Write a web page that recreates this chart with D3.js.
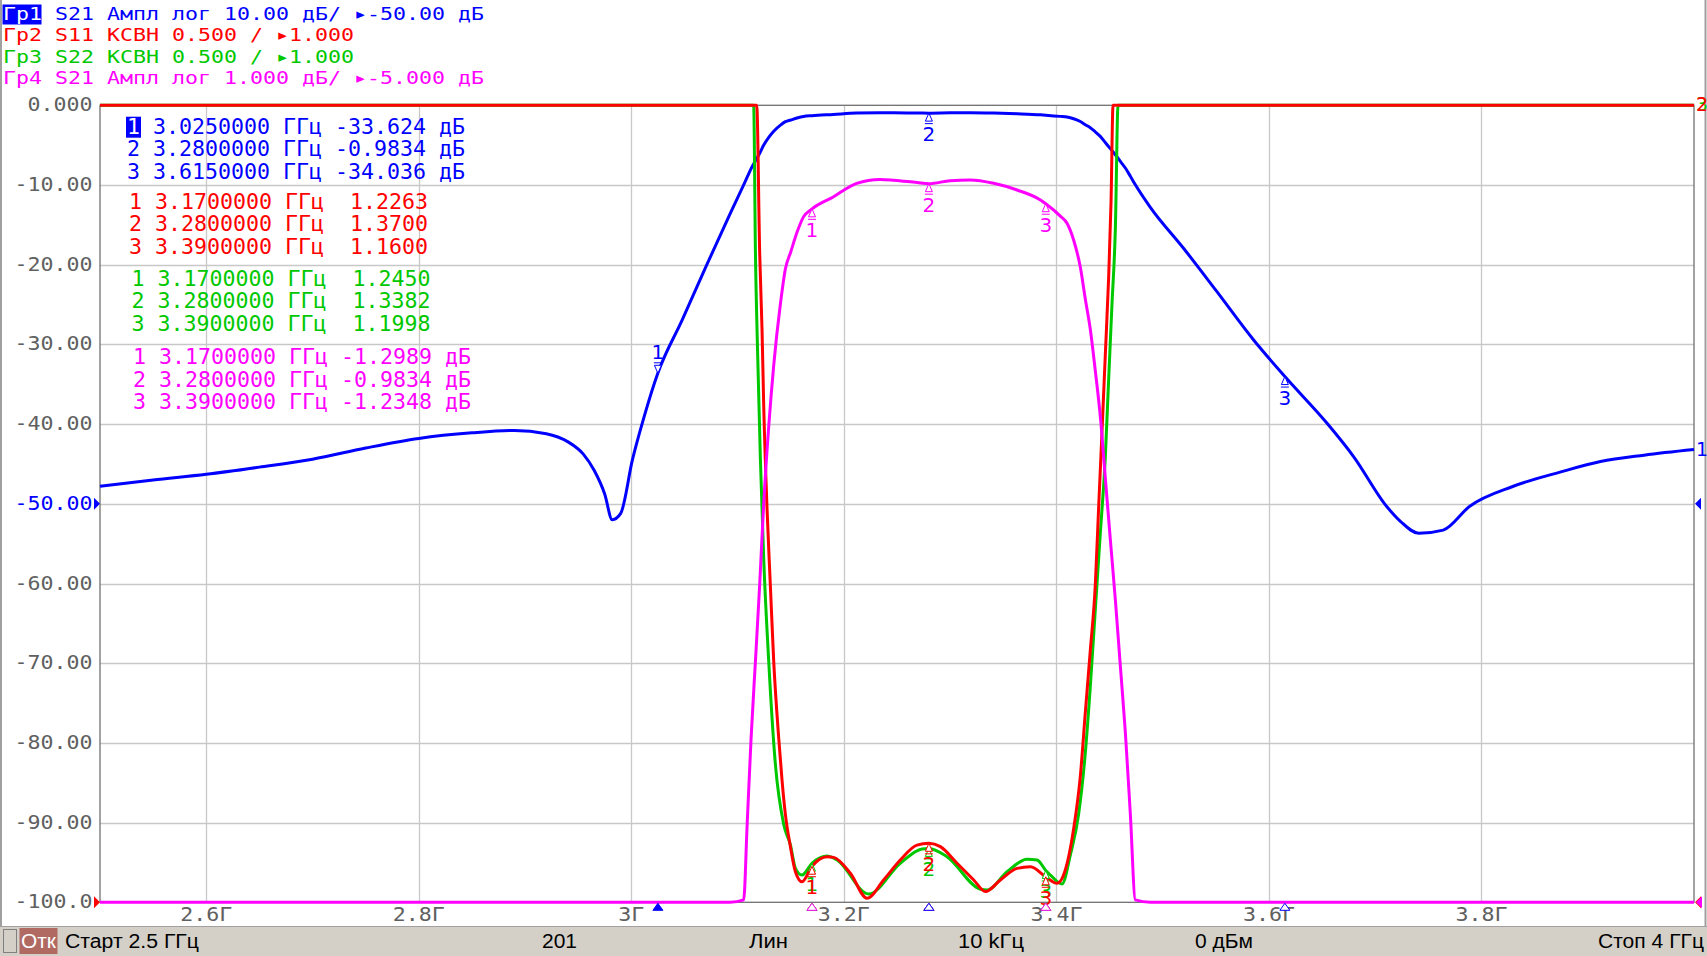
<!DOCTYPE html>
<html><head><meta charset="utf-8">
<script src="https://cdn.jsdelivr.net/npm/d3@7"></script>
<style>html,body{margin:0;padding:0;background:#fff;overflow:hidden}</style>
</head><body><svg id="c" width="1707" height="956"></svg>
<script>
// ---------------- DATA ----------------
const startGHz = 2.5, stopGHz = 4.0;
const xTickValues = [2.6, 2.8, 3.0, 3.2, 3.4, 3.6, 3.8];
const xTickLabels = ["2.6Г", "2.8Г", "3Г", "3.2Г", "3.4Г", "3.6Г", "3.8Г"];
const yTickValues = [0, -10, -20, -30, -40, -50, -60, -70, -80, -90, -100];
const yTickLabels = ["0.000", "-10.00", "-20.00", "-30.00", "-40.00", "-50.00", "-60.00", "-70.00", "-80.00", "-90.00", "-100.0"];

// S21 amplitude (dB) — shown as Гр1 (10 dB/div) and Гр4 (1 dB/div)
const s21Freq = [2.500, 2.550, 2.600, 2.650, 2.700, 2.750, 2.800, 2.850, 2.890, 2.920, 2.940, 2.955, 2.965, 2.975, 2.982, 2.990,
  3.001, 3.012, 3.025, 3.048, 3.070, 3.093, 3.1057, 3.109, 3.1127, 3.1168, 3.1208, 3.1246, 3.1293, 3.134, 3.1403, 3.145,
  3.150, 3.156, 3.162, 3.170, 3.190, 3.212, 3.234, 3.247, 3.269, 3.280, 3.300, 3.319, 3.341, 3.363, 3.385, 3.390,
  3.4037, 3.410, 3.4162, 3.4225, 3.4272, 3.4319, 3.4366, 3.4413, 3.446, 3.4507, 3.4555, 3.4602, 3.4649, 3.4696, 3.4743,
  3.4884, 3.520, 3.550, 3.5856, 3.615, 3.6547, 3.6798, 3.7112, 3.7237, 3.741, 3.764, 3.789, 3.830, 3.8747, 3.912, 3.953, 4.000];
const s21Db = [-47.8, -47.0, -46.3, -45.4, -44.4, -43.0, -41.8, -41.1, -40.8, -41.2, -42.2, -43.8, -45.8, -48.8, -52.0, -51.2,
  -44.5, -39.1, -33.6, -26.9, -20.3, -13.6, -9.97, -9.02, -7.94, -6.97, -6.01, -4.99, -4.03, -3.26, -2.49, -2.05,
  -1.84, -1.59, -1.40, -1.30, -1.15, -0.98, -0.93, -0.94, -0.97, -0.983, -0.946, -0.937, -0.979, -1.063, -1.188, -1.235,
  -1.39, -1.48, -1.69, -2.03, -2.43, -2.81, -3.33, -3.90, -4.67, -5.44, -6.21, -7.04, -7.87, -8.9, -9.97,
  -12.8, -18.0, -23.2, -29.45, -34.04, -39.9, -44.1, -50.4, -52.2, -53.7, -53.3, -50.3, -47.8, -46.0, -44.7, -43.9, -43.2];

// S11 VSWR (Гр2)
const s11Freq = [2.500, 3.118, 3.1208, 3.123, 3.1246, 3.1277, 3.1308, 3.134, 3.1387, 3.1418, 3.145, 3.1497, 3.1544, 3.1606, 3.170,
  3.1842, 3.1904, 3.2061, 3.2218, 3.2374, 3.2531, 3.2688, 3.280, 3.2908, 3.3065, 3.3222, 3.3332, 3.3473, 3.363, 3.3755, 3.390,
  3.4006, 3.4084, 3.4162, 3.4225, 3.4272, 3.4319, 3.4366, 3.4397, 3.4429, 3.446, 3.4491, 3.4514, 3.4533, 4.000];
const s11Vswr = [6.0, 6.0, 5.07, 4.59, 4.11, 3.47, 2.99, 2.51, 2.03, 1.767, 1.55, 1.349, 1.192, 1.129, 1.226,
  1.286, 1.282, 1.182, 1.025, 1.140, 1.265, 1.359, 1.370, 1.349, 1.245, 1.140, 1.067, 1.140, 1.213, 1.223, 1.160,
  1.119, 1.203, 1.46, 1.79, 2.19, 2.58, 2.99, 3.47, 3.95, 4.43, 4.91, 5.39, 6.0, 6.0];

// S22 VSWR (Гр3)
const s22Freq = [2.500, 3.1151, 3.1168, 3.1189, 3.1214, 3.1246, 3.1293, 3.1355, 3.1434, 3.1497, 3.1544, 3.1606, 3.170,
  3.1842, 3.1936, 3.2233, 3.2531, 3.2735, 3.280, 3.297, 3.3285, 3.3348, 3.3536, 3.3724, 3.3818, 3.390, 3.3959, 3.4053,
  3.4131, 3.4209, 3.4272, 3.4319, 3.4366, 3.4413, 3.446, 3.4491, 3.4523, 3.4555, 3.458, 4.000];
const s22Vswr = [6.0, 6.0, 5.07, 4.43, 3.79, 3.15, 2.51, 1.87, 1.488, 1.36, 1.213, 1.171, 1.245,
  1.290, 1.265, 1.052, 1.245, 1.335, 1.338, 1.286, 1.082, 1.077, 1.192, 1.270, 1.265, 1.200, 1.161, 1.115,
  1.296, 1.552, 1.936, 2.353, 2.833, 3.313, 3.79, 4.27, 4.75, 5.23, 6.0, 6.0];

// markers
const tr1MarkerFreq = [3.025, 3.28, 3.615];
const tr1MarkerVal = [-33.624, -0.9834, -34.036];
const passMarkerFreq = [3.17, 3.28, 3.39];
const tr2MarkerVal = [1.2263, 1.3700, 1.1600];
const tr3MarkerVal = [1.2450, 1.3382, 1.1998];
const tr4MarkerVal = [-1.2989, -0.9834, -1.2348];

const headerTexts = ["S21 Ампл лог 10.00 дБ/ ▸-50.00 дБ", "S11 КСВН 0.500 / ▸1.000", "S22 КСВН 0.500 / ▸1.000", "S21 Ампл лог 1.000 дБ/ ▸-5.000 дБ"];
const headerTags = ["Гр1", "Гр2", "Гр3", "Гр4"];
const statusTexts = ["Старт 2.5 ГГц", "201", "Лин", "10 kГц", "0 дБм", "Стоп 4 ГГц"];

// ---------------- STYLE / LAYOUT ----------------
const BLUE = "#0000ff", RED = "#ff0000", GREEN = "#00c800", MAG = "#ff00ff", AXC = "#606060", GRID = "#c8c8c8";
const PL = 100, PR = 1694, PT = 105.3, PB = 902.3;
const ADV = 13;
const MONO = "'DejaVu Sans Mono', monospace";

const svg = d3.select("#c");
svg.append("rect").attr("width", 1707).attr("height", 956).attr("fill", "#fff");

const x = d3.scaleLinear().domain([startGHz, stopGHz]).range([PL, PR]);
const yDb10 = d3.scaleLinear().domain([-100, 0]).range([PB, PT]).clamp(true);
const yDb1 = d3.scaleLinear().domain([-10, 0]).range([PB, PT]).clamp(true);
const yVswr = d3.scaleLinear().domain([1, 6]).range([PB, PT]).clamp(true);

function mono(g, xs, y, str, size, color, adv) {
  adv = adv || ADV;
  return g.append("text").attr("x", xs).attr("y", y).text(str)
    .attr("font-family", MONO).attr("font-size", size).attr("fill", color)
    .attr("textLength", str.length * adv).attr("lengthAdjust", "spacingAndGlyphs")
    .style("white-space", "pre").attr("xml:space", "preserve");
}

// window frame
svg.append("line").attr("x1", 1).attr("x2", 1).attr("y1", 0).attr("y2", 926).attr("stroke", "#a0a0a0").attr("stroke-width", 2);
svg.append("line").attr("x1", 1705.5).attr("x2", 1705.5).attr("y1", 0).attr("y2", 926).attr("stroke", "#a0a0a0").attr("stroke-width", 2);

// header
const hdr = svg.append("g");
const hdrColors = [BLUE, RED, GREEN, MAG];
headerTexts.forEach((t, i) => {
  const by = 19.5 + i * 21.6;
  if (i === 0) {
    hdr.append("rect").attr("x", 2.5).attr("y", by - 15).attr("width", 39).attr("height", 20).attr("fill", BLUE);
    mono(hdr, 3, by, headerTags[i], 18.5, "#fff");
  } else {
    mono(hdr, 3, by, headerTags[i], 18.5, hdrColors[i]);
  }
  mono(hdr, 3 + 4 * ADV, by, t, 18.5, hdrColors[i]);
});

// grid
const grid = svg.append("g");
grid.selectAll(".gv").data(xTickValues).join("line")
  .attr("x1", d => Math.round(x(d)) + 0.5).attr("x2", d => Math.round(x(d)) + 0.5)
  .attr("y1", PT).attr("y2", PB).attr("stroke", GRID).attr("stroke-width", 1.3);
grid.selectAll(".gh").data(yTickValues.slice(1, -1)).join("line")
  .attr("x1", PL).attr("x2", PR)
  .attr("y1", d => Math.round(yDb10(d)) + 0.5).attr("y2", d => Math.round(yDb10(d)) + 0.5)
  .attr("stroke", GRID).attr("stroke-width", 1.3);
svg.append("rect").attr("x", PL).attr("y", PT).attr("width", PR - PL).attr("height", PB - PT)
  .attr("fill", "none").attr("stroke", "#707070").attr("stroke-width", 1.3);

// axis labels
const ax = svg.append("g");
yTickValues.forEach((v, i) => {
  const s = yTickLabels[i];
  mono(ax, 92.5 - s.length * ADV, yDb10(v) + 6, s, 19.5, v === -50 ? BLUE : AXC);
});
xTickValues.forEach((v, i) => {
  const s = xTickLabels[i];
  mono(ax, x(v) - s.length * ADV / 2, 921, s, 19.5, AXC);
});

// traces
const plotG = svg.append("g");
function trace(fr, vals, ys, color) {
  const line = d3.line().x(d => x(d[0])).y(d => ys(d[1])).curve(d3.curveMonotoneX);
  plotG.append("path").datum(fr.map((f, i) => [f, vals[i]]))
    .attr("d", line).attr("fill", "none").attr("stroke", color)
    .attr("stroke-width", 3).attr("stroke-linejoin", "round");
}
trace(s21Freq, s21Db, yDb10, BLUE);
trace(s22Freq, s22Vswr, yVswr, GREEN);
trace(s11Freq, s11Vswr, yVswr, RED);
trace(s21Freq, s21Db, yDb1, MAG);

// marker glyphs on traces
const mk = svg.append("g");
function markerGlyph(px, py, color, label, above) {
  const s = above ? -1 : 1;
  mk.append("path").attr("d", `M${px},${py} L${px - 3.5},${py + s * 8} L${px + 3.5},${py + s * 8} Z`)
    .attr("fill", "#fff").attr("stroke", color).attr("stroke-width", 1);
  mk.append("line").attr("x1", px - 4).attr("x2", px + 4).attr("y1", py + s * 10.5).attr("y2", py + s * 10.5)
    .attr("stroke", color).attr("stroke-width", 1);
  mk.append("text").attr("x", px).attr("y", above ? py - 14 : py + 28)
    .attr("text-anchor", "middle").attr("font-family", "'DejaVu Sans', sans-serif").attr("font-size", 20)
    .attr("fill", color).text(label);
}
passMarkerFreq.forEach((f, i) => markerGlyph(x(f), yVswr(tr3MarkerVal[i]), GREEN, i + 1, false));
passMarkerFreq.forEach((f, i) => markerGlyph(x(f), yVswr(tr2MarkerVal[i]), RED, i + 1, false));
passMarkerFreq.forEach((f, i) => markerGlyph(x(f), yDb1(tr4MarkerVal[i]), MAG, i + 1, false));
tr1MarkerFreq.forEach((f, i) => markerGlyph(x(f), yDb10(tr1MarkerVal[i]), BLUE, i + 1, i === 0));

// marker triangles on the frequency axis
function axisTri(f, color, filled) {
  const px = x(f);
  mk.append("path").attr("d", `M${px},${PB + 1} L${px - 5},${PB + 8} L${px + 5},${PB + 8} Z`)
    .attr("fill", filled ? color : "#fff").attr("stroke", color).attr("stroke-width", 1);
}
passMarkerFreq.forEach(f => axisTri(f, RED, false));
passMarkerFreq.forEach(f => axisTri(f, GREEN, false));
passMarkerFreq.forEach(f => axisTri(f, MAG, false));
tr1MarkerFreq.forEach((f, i) => axisTri(f, BLUE, i === 0));

// reference level arrows
function refArrow(px, py, color, dir) {
  mk.append("path").attr("d", `M${px},${py} L${px - dir * 6},${py - 6} L${px - dir * 6},${py + 6} Z`).attr("fill", color);
}
refArrow(PL, yDb10(-50), BLUE, 1);
refArrow(PL, PB, RED, 1);
refArrow(PR + 1, yDb10(-50), BLUE, -1);
refArrow(PR + 1, PB, RED, -1);
refArrow(PR + 2, PB, MAG, -1);

// trace end labels
function endLabel(py, color, txt) {
  mk.append("text").attr("x", 1696).attr("y", py + 6).attr("font-family", "'DejaVu Sans', sans-serif")
    .attr("font-size", 19).attr("fill", color).text(txt);
}
endLabel(yVswr(s22Vswr[s22Vswr.length - 1]), GREEN, "3");
endLabel(yVswr(s11Vswr[s11Vswr.length - 1]), RED, "2");
endLabel(yDb10(s21Db[s21Db.length - 1]), BLUE, "1");

// marker table
const tbl = svg.append("g");
function fmtVal(v) {
  const a = Math.abs(v);
  const s = a >= 10 ? a.toFixed(3) : a.toFixed(4);
  return (v < 0 ? "-" : " ") + s;
}
const groups = [
  { vals: tr1MarkerVal, freqs: tr1MarkerFreq, unit: " дБ", color: BLUE, x0: 127, y0: 133.5 },
  { vals: tr2MarkerVal, freqs: passMarkerFreq, unit: "", color: RED, x0: 129, y0: 208.5 },
  { vals: tr3MarkerVal, freqs: passMarkerFreq, unit: "", color: GREEN, x0: 131.5, y0: 285.5 },
  { vals: tr4MarkerVal, freqs: passMarkerFreq, unit: " дБ", color: MAG, x0: 133, y0: 364 }
];
groups.forEach((g, gi) => {
  g.vals.forEach((v, i) => {
    const by = g.y0 + i * 22.7;
    const str = `${i + 1} ${g.freqs[i].toFixed(7)} ГГц ${fmtVal(v)}${g.unit}`;
    if (gi === 0 && i === 0) {
      tbl.append("rect").attr("x", g.x0 - 1).attr("y", by - 16.8).attr("width", 15).attr("height", 21).attr("fill", BLUE);
      mono(tbl, g.x0, by, "1", 21.6, "#fff");
      mono(tbl, g.x0 + ADV, by, str.slice(1), 21.6, g.color);
    } else {
      mono(tbl, g.x0, by, str, 21.6, g.color);
    }
  });
});

// status bar
const sb = svg.append("g");
sb.append("rect").attr("x", 0).attr("y", 926).attr("width", 1707).attr("height", 30).attr("fill", "#d4d0c8");
sb.append("line").attr("x1", 0).attr("x2", 1707).attr("y1", 926.5).attr("y2", 926.5).attr("stroke", "#a0a0a0");
sb.append("rect").attr("x", 3.5).attr("y", 929.5).attr("width", 13).attr("height", 23).attr("fill", "#d4d0c8").attr("stroke", "#808080");
sb.append("rect").attr("x", 19.5).attr("y", 928).attr("width", 38).attr("height", 26).attr("fill", "#b06a62");
sb.append("text").attr("x", 21).attr("y", 948).attr("font-family", "'Liberation Sans', Arial, sans-serif").attr("font-size", 20)
  .attr("fill", "#fff").attr("textLength", 35).attr("lengthAdjust", "spacingAndGlyphs").text("Отк");
const sbPos = [[65, 134], [542, 35], [749, 39], [958, 66], [1195, 58], [1598, 106]];
statusTexts.forEach((t, i) => {
  sb.append("text").attr("x", sbPos[i][0]).attr("y", 948).attr("font-family", "'Liberation Sans', Arial, sans-serif")
    .attr("font-size", 20).attr("fill", "#000").attr("textLength", sbPos[i][1]).attr("lengthAdjust", "spacingAndGlyphs").text(t);
});
</script></body></html>
